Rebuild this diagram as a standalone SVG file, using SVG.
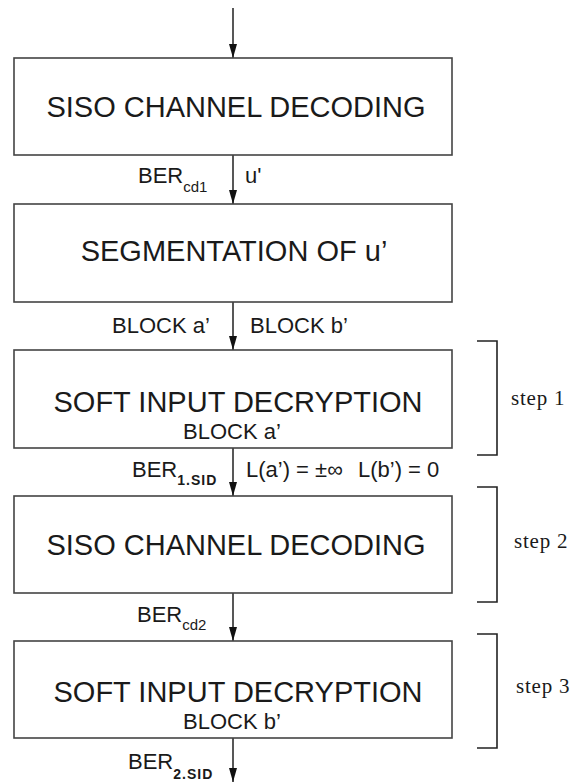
<svg xmlns="http://www.w3.org/2000/svg" width="576" height="783" viewBox="0 0 576 783">
  <defs>
    <marker id="head" markerUnits="userSpaceOnUse" markerWidth="14" markerHeight="8" refX="14" refY="4" orient="auto">
      <path d="M0,0 L14,4 L0,8 z" fill="#111"/>
    </marker>
    <style>
      .box { fill: #fff; stroke: #444; stroke-width: 1.6; }
      .main { font-family: "Liberation Sans", Arial, sans-serif; font-size: 29px; fill: #1a1a1a; text-anchor: middle; }
      .sub { font-family: "Liberation Sans", Arial, sans-serif; font-size: 22px; fill: #1a1a1a; }
      .mid { text-anchor: middle; }
      .idx { font-size: 15px; }
      .bidx { font-size: 14px; font-weight: bold; letter-spacing: 1px; }
      .flow { fill: none; stroke: #111; stroke-width: 1.4; marker-end: url(#head); }
      .brk { fill: none; stroke: #222; stroke-width: 1.6; }
      .step { font-family: "Liberation Serif", "Times New Roman", serif; font-size: 21px; fill: #1a1a1a; letter-spacing: 0.8px; }
    </style>
  </defs>

  <rect width="576" height="783" fill="#fff"/>

  <!-- connectors -->
  <g id="connectors">
    <path class="flow" d="M233,8 V58"/>
    <path class="flow" d="M233,155 V204"/>
    <path class="flow" d="M233,302 V350"/>
    <path class="flow" d="M233,448 V496"/>
    <path class="flow" d="M233,593 V641"/>
    <path class="flow" d="M233,738 V782"/>
  </g>

  <!-- labels on the connectors -->
  <g id="edge-labels" class="sub">
    <text x="138" y="183">BER<tspan class="idx" dy="9">cd1</tspan></text>
    <text x="245" y="183">u'</text>
    <text x="112" y="333">BLOCK a’</text>
    <text x="250" y="333">BLOCK b’</text>
    <text x="132" y="477">BER<tspan class="bidx" dy="8">1.SID</tspan></text>
    <text x="246" y="477">L(a’) = ±∞</text>
    <text x="358" y="477">L(b’) = 0</text>
    <text x="137" y="622">BER<tspan class="idx" dy="8">cd2</tspan></text>
    <text x="128" y="769">BER<tspan class="bidx" dy="10">2.SID</tspan></text>
  </g>

  <g id="siso1">
    <rect class="box" x="14" y="58" width="438" height="97"/>
    <text class="main" x="236" y="117">SISO CHANNEL DECODING</text>
  </g>

  <g id="segmentation">
    <rect class="box" x="14" y="204" width="438" height="98"/>
    <text class="main" x="234" y="261">SEGMENTATION OF u’</text>
  </g>

  <g id="sid1">
    <rect class="box" x="14" y="350" width="438" height="98"/>
    <text class="main" x="238" y="412">SOFT INPUT DECRYPTION</text>
    <text class="sub mid" x="232" y="439">BLOCK a’</text>
  </g>

  <g id="siso2">
    <rect class="box" x="14" y="496" width="438" height="97"/>
    <text class="main" x="236" y="555">SISO CHANNEL DECODING</text>
  </g>

  <g id="sid2">
    <rect class="box" x="14" y="641" width="438" height="97"/>
    <text class="main" x="238" y="702">SOFT INPUT DECRYPTION</text>
    <text class="sub mid" x="232" y="729">BLOCK b’</text>
  </g>

  <g id="step1">
    <path class="brk" d="M477,341 H497 V455 H477"/>
    <text class="step" x="511" y="405">step 1</text>
  </g>

  <g id="step2">
    <path class="brk" d="M477,487 H497 V602 H477"/>
    <text class="step" x="514" y="548">step 2</text>
  </g>

  <g id="step3">
    <path class="brk" d="M477,634 H497 V748 H477"/>
    <text class="step" x="516" y="693">step 3</text>
  </g>
</svg>
